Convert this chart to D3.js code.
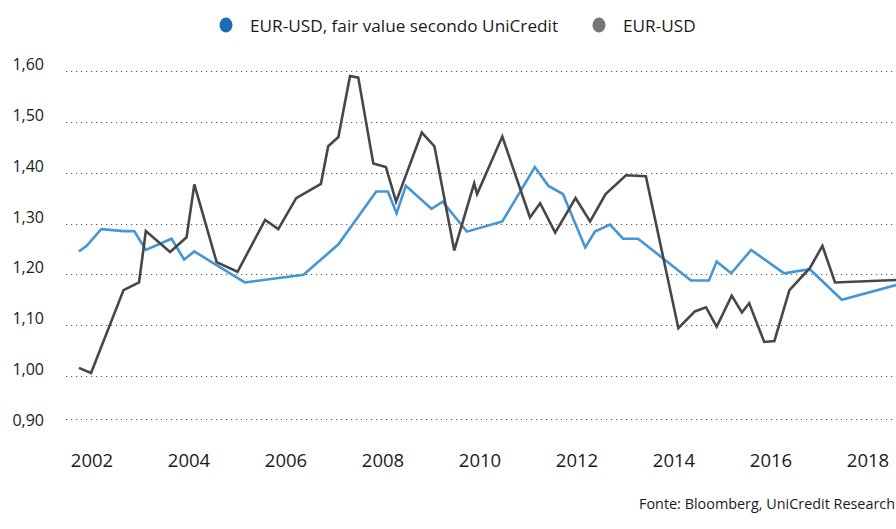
<!DOCTYPE html>
<html>
<head>
<meta charset="utf-8">
<script src="https://cdn.jsdelivr.net/npm/d3@7"></script>
<style>
  body { margin: 0; background: #fff; }
  svg { display: block; font-family: "Open Sans", sans-serif; }
</style>
</head>
<body>
<div id="chart"></div>
<script>
// fair value secondo UniCredit (decimal years, values)
const fairDates = [2001.73, 2001.89, 2002.19, 2002.65, 2002.87, 2003.11, 2003.64, 2003.90, 2004.11, 2004.57,
    2005.15, 2006.36, 2007.08, 2007.86, 2008.10, 2008.28, 2008.47, 2009.00, 2009.23, 2009.73,
    2010.46, 2011.13, 2011.41, 2011.71, 2012.17, 2012.37, 2012.68, 2012.95, 2013.26, 2014.35,
    2014.72, 2014.88, 2015.18, 2015.59, 2016.27, 2016.80, 2017.46, 2018.58];
const fairValues = [1.245, 1.256, 1.289, 1.285, 1.285, 1.248, 1.270, 1.229, 1.245, 1.218,
    1.184, 1.199, 1.259, 1.363, 1.363, 1.320, 1.374, 1.329, 1.343, 1.284,
    1.304, 1.411, 1.374, 1.358, 1.253, 1.284, 1.298, 1.270, 1.270, 1.188,
    1.188, 1.225, 1.202, 1.248, 1.202, 1.210, 1.150, 1.179];

// EUR-USD spot
const spotDates = [2001.73, 2001.98, 2002.65, 2002.97, 2003.11, 2003.61, 2003.95, 2004.11, 2004.57, 2005.00,
    2005.57, 2005.84, 2006.21, 2006.72, 2006.87, 2007.08, 2007.32, 2007.49, 2007.80, 2008.06,
    2008.27, 2008.80, 2009.06, 2009.47, 2009.88, 2009.94, 2010.46, 2011.03, 2011.24, 2011.55,
    2011.97, 2012.27, 2012.59, 2013.01, 2013.42, 2014.09, 2014.43, 2014.66, 2014.88, 2015.19,
    2015.40, 2015.55, 2015.86, 2016.07, 2016.38, 2016.80, 2017.06, 2017.32, 2018.58];
const spotValues = [1.016, 1.006, 1.169, 1.184, 1.285, 1.244, 1.273, 1.377, 1.224, 1.205,
    1.307, 1.289, 1.350, 1.378, 1.452, 1.470, 1.590, 1.587, 1.418, 1.411,
    1.343, 1.479, 1.452, 1.247, 1.379, 1.358, 1.471, 1.312, 1.340, 1.282,
    1.350, 1.304, 1.358, 1.395, 1.393, 1.094, 1.127, 1.135, 1.097, 1.158,
    1.125, 1.143, 1.067, 1.069, 1.169, 1.212, 1.256, 1.184, 1.189];

const yTicks = [0.9, 1.0, 1.1, 1.2, 1.3, 1.4, 1.5, 1.6];
const xTicks = [2002, 2004, 2006, 2008, 2010, 2012, 2014, 2016, 2018];
const seriesNames = ["EUR-USD, fair value secondo UniCredit", "EUR-USD"];
const source = "Fonte: Bloomberg, UniCredit Research";

const width = 896, height = 529;
const svg = d3.select("#chart").append("svg").attr("width", width).attr("height", height);

const x = d3.scaleLinear().domain([2002, 2018]).range([92, 868]);
const y = d3.scaleLinear().domain([1.0, 1.6]).range([376, 71]);
// the bottom gridline sits a bit higher than the regular step in the original
const gridY = d3.scaleLinear().domain([0.9, 1.0, 1.6]).range([419, 376, 71]);
const fmt = v => d3.format(".2f")(v).replace(".", ",");

// gridlines + y labels
svg.append("g").selectAll("line")
    .data(yTicks)
    .join("line")
    .attr("x1", 66).attr("x2", width)
    .attr("y1", d => Math.round(gridY(d)) + 0.5).attr("y2", d => Math.round(gridY(d)) + 0.5)
    .attr("stroke", "#555")
    .attr("stroke-width", 1.2)
    .attr("stroke-dasharray", "1.2,3.8");

svg.append("g").selectAll("text")
    .data(yTicks)
    .join("text")
    .attr("x", 44)
    .attr("y", d => y(d) - 1)
    .attr("text-anchor", "end")
    .attr("font-size", 16)
    .attr("fill", "#1a1a1a")
    .text(fmt);

// x labels
svg.append("g").selectAll("text")
    .data(xTicks)
    .join("text")
    .attr("x", d => x(d))
    .attr("y", 467)
    .attr("text-anchor", "middle")
    .attr("font-size", 18.5)
    .attr("fill", "#1a1a1a")
    .text(d => d);

const line = d3.line()
    .x(d => x(d[0]))
    .y(d => y(d[1]));

svg.append("path")
    .datum(d3.zip(fairDates, fairValues))
    .attr("d", line)
    .attr("fill", "none")
    .attr("stroke", "#4596d6")
    .attr("stroke-width", 2.6)
    .attr("stroke-linejoin", "miter");

svg.append("path")
    .datum(d3.zip(spotDates, spotValues))
    .attr("d", line)
    .attr("fill", "none")
    .attr("stroke", "#474747")
    .attr("stroke-width", 2.6)
    .attr("stroke-linejoin", "miter");

// legend
const legend = [
    {name: seriesNames[0], color: "#1b6cb4", cx: 226, tx: 250},
    {name: seriesNames[1], color: "#797573", cx: 599, tx: 623}
];
const lg = svg.append("g").selectAll("g").data(legend).join("g");
lg.append("ellipse")
    .attr("cx", d => d.cx).attr("cy", 25)
    .attr("rx", 6.5).attr("ry", 7.5)
    .attr("fill", d => d.color);
lg.append("text")
    .attr("x", d => d.tx).attr("y", 31.5)
    .attr("font-size", 17.2)
    .attr("fill", "#1a1a1a")
    .text(d => d.name);

svg.append("text")
    .attr("x", 639).attr("y", 509)
    .attr("font-size", 14.4)
    .attr("fill", "#1a1a1a")
    .text(source);
</script>
</body>
</html>
